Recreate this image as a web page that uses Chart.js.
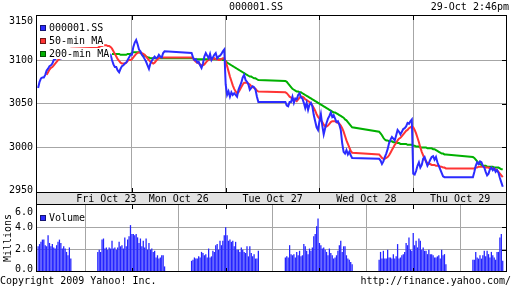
<!DOCTYPE html>
<html>
<head>
<meta charset="utf-8">
<script src="https://cdn.jsdelivr.net/npm/chart.js@4.4.1/dist/chart.umd.min.js"></script>
<style>
  html, body { margin: 0; padding: 0; background: #fff; }
  #wrap { position: relative; width: 512px; height: 288px; }
  canvas { position: absolute; left: 0; top: 0; }
</style>
</head>
<body>
<div id="wrap">
  <canvas id="price" width="512" height="288"></canvas>
  <canvas id="vol" width="512" height="288"></canvas>
</div>
<script>
// x axis unit = one 5-minute slot; each day 9:30-15:00 = 66 slots
const sessionStart = [0, 42, 66, 108, 132, 174, 198, 240, 264, 306];
const sessionLen = [24, 24, 24, 24, 24, 24, 24, 24, 24, 22];
const dayBreaks = [66, 132, 198, 264];
const dayLabels = ['Fri Oct 23', 'Mon Oct 26', 'Tue Oct 27', 'Wed Oct 28', 'Thu Oct 29'];
const dayLabelSlot = [48, 99, 165, 231, 297];
const priceTicks = [2950, 3000, 3050, 3100, 3150];
const volumeTicks = [0, 2, 4, 6];

// 000001.SS, one value per slot, session by session
const close = [
  3068, 3075, 3079, 3080, 3080, 3083, 3088, 3090, 3093, 3094, 3096, 3100, 3101, 3102, 3103, 3104, 3102, 3105, 3104, 3106, 3103, 3104, 3105, 3104,
  3106, 3108, 3107, 3105, 3106, 3108, 3107, 3106, 3107, 3106, 3100, 3095, 3092, 3092, 3088, 3086, 3090, 3093, 3094, 3096, 3097, 3100, 3103, 3106,
  3106, 3115, 3120, 3123, 3118, 3112, 3110, 3106, 3104, 3101, 3098, 3094, 3090, 3096, 3099, 3102, 3104, 3102, 3103, 3106, 3104, 3103, 3108, 3110,
  3108, 3103, 3100, 3101, 3097, 3098, 3094, 3091, 3096, 3104, 3108, 3105, 3102, 3107, 3100, 3103, 3106, 3108, 3102, 3104, 3105, 3107, 3110, 3112,
  3072, 3060, 3064, 3058, 3063, 3060, 3062, 3060, 3058, 3066, 3070, 3074, 3080, 3083, 3077, 3075, 3072, 3066, 3068, 3070, 3069, 3066, 3058, 3052,
  3052, 3048, 3047, 3052, 3052, 3058, 3051, 3056, 3055, 3060, 3062, 3057, 3056, 3051, 3045, 3051, 3043, 3049, 3051, 3047, 3037, 3030, 3023, 3020,
  3030, 3038, 3025, 3015, 3022, 3028, 3033, 3036, 3040, 3035, 3037, 3033, 3029, 3030, 3026, 3020, 3005, 2995, 2993, 2997, 2992, 2995, 2991, 2988,
  2987, 2985, 2981, 2984, 2989, 2993, 2998, 3005, 3009, 3012, 3010, 3008, 3014, 3020, 3018, 3015, 3018, 3021, 3022, 3024, 3028, 3027, 3030, 3032,
  2970, 2969, 2973, 2979, 2983, 2977, 2980, 2987, 2989, 2984, 2979, 2982, 2986, 2989, 2990, 2986, 2989, 2983, 2979, 2975, 2971, 2967, 2966, 2966,
  2966, 2972, 2979, 2983, 2981, 2984, 2983, 2979, 2977, 2972, 2968, 2970, 2975, 2977, 2974, 2976, 2972, 2974, 2971, 2965, 2960, 2955
];

const ma50 = [
  null, null, null, null, null, null, 3083, 3086, 3089, 3091, 3092, 3094, 3096, 3098, 3100, 3101, 3103, 3105, 3107, 3108, 3110, 3111, 3112, 3113,
  3114, 3115, 3116, 3116, 3117, 3117, 3117, 3116, 3116, 3115, 3113, 3110, 3107, 3104, 3101, 3099, 3097, 3096, 3096, 3096, 3097, 3099, 3100, 3100,
  3101, 3103, 3105, 3107, 3108, 3109, 3109, 3108, 3107, 3106, 3104, 3102, 3100, 3098, 3097, 3096, 3097, 3099, 3101, 3102, 3103, 3103, 3103, 3103,
  3103, 3102, 3100, 3098, 3097, 3096, 3095, 3094, 3094, 3095, 3097, 3099, 3100, 3101, 3101, 3101, 3102, 3101, 3101, 3100, 3100, 3101, 3102, 3102,
  3098, 3093, 3087, 3081, 3076, 3071, 3067, 3064, 3062, 3063, 3066, 3069, 3072, 3074, 3074, 3074, 3073, 3072, 3070, 3069, 3068, 3067, 3065, 3064,
  3063, 3062, 3060, 3058, 3057, 3056, 3055, 3054, 3053, 3055, 3057, 3058, 3058, 3057, 3055, 3054, 3053, 3052, 3050, 3048, 3045, 3042, 3038, 3035,
  3033, 3031, 3029, 3026, 3024, 3024, 3025, 3027, 3029, 3030, 3030, 3030, 3029, 3028, 3027, 3025, 3022, 3018, 3013, 3008, 3004, 3000, 2996, 2994,
  2992, 2990, 2988, 2987, 2987, 2988, 2989, 2991, 2994, 2997, 3000, 3003, 3005, 3008, 3010, 3011, 3013, 3015, 3017, 3019, 3020, 3022, 3023, 3024,
  3023, 3020, 3016, 3011, 3006, 3000, 2995, 2991, 2987, 2984, 2982, 2981, 2981, 2980, 2980, 2980, 2979, 2979, 2979, 2978, 2978, 2977, 2977, 2976,
  2976, 2976, 2977, 2977, 2978, 2978, 2978, 2978, 2978, 2977, 2977, 2977, 2976, 2976, 2976, 2975, 2975, 2974, 2972, 2970, 2968, 2966
];

const ma200 = [
  null, null, null, null, null, null, null, null, null, null, null, null, null, null, null, null, null, null, null, null, null, null, null, null,
  null, null, null, null, null, null, null, null, null, null, 3107, 3107, 3107, 3107, 3107, 3107, 3106, 3106, 3106, 3106, 3106, 3107, 3107, 3107,
  3108, 3109, 3109, 3109, 3109, 3109, 3108, 3107, 3106, 3105, 3104, 3103, 3103, 3102, 3102, 3102, 3102, 3102, 3102, 3102, 3102, 3102, 3102, 3102,
  3102, 3102, 3101, 3101, 3101, 3101, 3101, 3101, 3101, 3101, 3101, 3101, 3101, 3101, 3101, 3101, 3101, 3101, 3101, 3101, 3101, 3101, 3100, 3100,
  3099, 3097, 3096, 3095, 3094, 3093, 3092, 3091, 3090, 3089, 3088, 3087, 3086, 3085, 3084, 3083, 3082, 3081, 3081, 3080, 3079, 3079, 3078, 3077,
  3076, 3075, 3073, 3071, 3069, 3067, 3066, 3065, 3064, 3064, 3063, 3063, 3062, 3061, 3060, 3059, 3058, 3057, 3056, 3055, 3054, 3053, 3052, 3051,
  3050, 3049, 3048, 3047, 3046, 3045, 3044, 3043, 3042, 3041, 3040, 3040, 3039, 3038, 3037, 3036, 3035, 3034, 3032, 3031, 3029, 3027, 3025, 3023,
  3018, 3016, 3014, 3011, 3009, 3008, 3008, 3007, 3007, 3007, 3006, 3006, 3005, 3005, 3005, 3004, 3004, 3004, 3004, 3004, 3003, 3003, 3003, 3003,
  3002, 3002, 3001, 3001, 3001, 3000, 3000, 3000, 3000, 3000, 2999, 2999, 2999, 2999, 2998, 2998, 2997, 2996, 2995, 2994, 2993, 2993, 2992, 2992,
  2989, 2988, 2986, 2984, 2982, 2981, 2980, 2979, 2979, 2979, 2978, 2978, 2978, 2978, 2978, 2977, 2977, 2977, 2977, 2976, 2975, 2975
];

// volume in millions
const volume = [
  2.3, 2.5, 2.7, 2.9, 2.9, 2.4, 2.3, 3.3, 2.6, 2.3, 2.5, 2.2, 2.1, 2.4, 2.7, 2.9, 2.6, 2.1, 2.3, 2.1, 1.8, 1.5, 2.2, 1.2,
  1.8, 2.0, 1.8, 2.9, 3.0, 2.1, 2.2, 2.0, 2.2, 2.1, 2.8, 2.1, 2.2, 2.0, 2.2, 2.7, 2.3, 2.4, 2.1, 3.1, 2.3, 2.9, 3.2, 4.2,
  3.4, 3.4, 3.3, 3.4, 3.1, 2.6, 3.0, 2.3, 2.8, 2.2, 3.0, 2.0, 2.6, 2.0, 2.1, 1.8, 1.9, 1.3, 1.5, 1.2, 1.3, 1.5, 1.5, 0.5,
  1.0, 1.1, 1.3, 1.2, 1.2, 1.4, 1.3, 1.8, 1.7, 1.5, 1.6, 1.3, 2.1, 1.3, 1.4, 1.9, 1.8, 2.4, 2.5, 2.0, 2.8, 2.4, 2.8, 3.3,
  4.0, 3.3, 2.8, 2.9, 2.7, 2.8, 2.3, 2.7, 2.0, 2.0, 1.8, 2.2, 2.0, 1.8, 1.7, 2.3, 1.4, 2.3, 1.7, 1.4, 1.6, 1.2, 1.2, 1.9,
  1.3, 1.4, 1.3, 2.4, 1.6, 1.5, 1.6, 1.3, 1.8, 1.5, 1.9, 1.4, 1.5, 2.5, 2.3, 1.9, 1.6, 2.1, 1.9, 2.2, 3.2, 3.4, 4.1, 4.8,
  2.6, 2.4, 2.1, 2.2, 2.0, 1.8, 1.5, 2.1, 1.7, 1.5, 1.2, 1.3, 1.5, 1.9, 2.4, 2.8, 1.8, 2.3, 2.3, 1.5, 1.2, 1.1, 0.9, 0.7,
  1.1, 1.8, 1.2, 1.9, 1.2, 1.2, 2.0, 1.3, 1.3, 1.2, 1.6, 1.2, 1.4, 2.5, 1.2, 1.3, 1.5, 1.6, 1.8, 2.6, 2.4, 3.1, 2.0, 1.9,
  3.5, 2.4, 2.8, 2.2, 3.0, 2.8, 2.0, 2.2, 1.9, 1.9, 1.6, 2.0, 1.6, 1.6, 1.5, 1.3, 1.3, 1.4, 1.5, 1.2, 2.0, 1.5, 1.6, 0.7,
  1.1, 1.1, 1.8, 1.3, 1.2, 1.5, 1.2, 1.5, 1.9, 1.4, 1.9, 1.6, 1.3, 1.8, 1.5, 1.3, 1.1, 1.8, 1.8, 3.1, 3.4, 1.0
];

const BLUE = '#2b2bff';
const RED = '#ff3434';
const GREEN = '#00b000';
const GRID = '#a6a6a6';
const FONT = '10px "DejaVu Sans Mono", "Liberation Mono", monospace';

function sessionPoints(values) {
  const pts = [];
  let i = 0;
  sessionStart.forEach((start, k) => {
    for (let j = 0; j < sessionLen[k]; j++) pts.push({ x: start + j, y: values[i++] });
  });
  return pts;
}

function timeAxis() {
  return {
    type: 'linear', min: -1.5, max: 330, offset: false,
    ticks: { display: false },
    grid: { color: GRID, drawTicks: false },
    border: { display: false },
    afterBuildTicks: s => { s.ticks = dayBreaks.map(v => ({ value: v })); },
    afterFit: s => { s.height = 0; }
  };
}

function hline(ctx, x1, x2, y) {
  ctx.beginPath(); ctx.moveTo(x1, y + 0.5); ctx.lineTo(x2, y + 0.5); ctx.stroke();
}
function vline(ctx, x, y1, y2) {
  ctx.beginPath(); ctx.moveTo(x + 0.5, y1); ctx.lineTo(x + 0.5, y2); ctx.stroke();
}
function swatch(ctx, x, y, color) {
  ctx.fillStyle = color;
  ctx.fillRect(x, y, 6, 6);
  ctx.strokeStyle = 'rgba(0,0,0,0.55)';
  ctx.strokeRect(x + 0.5, y + 0.5, 5, 5);
}

// price panel decorations: legend, frame, date band, labels
const priceDecor = {
  id: 'priceDecor',
  afterDraw(chart) {
    const { ctx, chartArea: a, scales: { x, y } } = chart;
    ctx.save();
    ctx.font = FONT;
    ctx.textBaseline = 'middle';

    // legend rows (white behind the text)
    const rows = [['000001.SS', BLUE, 28], ['50-min MA', RED, 41], ['200-min MA', GREEN, 54]];
    rows.forEach(([txt, col, cy]) => {
      ctx.fillStyle = '#fff';
      ctx.fillRect(a.left + 1, cy - 6, 12 + ctx.measureText(txt).width + 1, 11);
    });
    rows.forEach(([txt, col, cy]) => {
      swatch(ctx, 40, cy - 3, col);
      ctx.fillStyle = '#000';
      ctx.textAlign = 'left';
      ctx.fillText(txt, 49, cy + 0.5);
    });

    // date band
    const bandTop = Math.round(a.bottom);
    ctx.fillStyle = '#e2e2e2';
    ctx.fillRect(a.left, bandTop, a.right - a.left, 12);

    ctx.strokeStyle = '#000';
    ctx.lineWidth = 1;
    hline(ctx, a.left, a.right, a.top);
    hline(ctx, a.left, a.right, bandTop);
    hline(ctx, a.left, a.right, bandTop + 12);
    vline(ctx, a.left, a.top, bandTop + 13);
    vline(ctx, a.right - 1, a.top, bandTop + 13);

    dayBreaks.forEach(v => {
      const px = Math.round(x.getPixelForValue(v));
      vline(ctx, px, a.top, a.top + 5);
      vline(ctx, px, bandTop - 4, bandTop);
    });
    priceTicks.forEach(v => {
      if (v <= y.min + 2 || v >= y.max - 2) return;
      const py = Math.round(y.getPixelForValue(v));
      hline(ctx, a.right - 5, a.right, py);
    });

    ctx.fillStyle = '#000';
    ctx.textAlign = 'right';
    priceTicks.forEach(v => {
      const py = Math.min(Math.max(y.getPixelForValue(v), a.top + 6), a.bottom - 2);
      ctx.fillText(String(v), 33, py);
    });

    ctx.textAlign = 'center';
    dayLabels.forEach((lab, i) => {
      ctx.fillText(lab, x.getPixelForValue(dayLabelSlot[i]), bandTop + 7);
    });

    ctx.fillText('000001.SS', 256, 7.5);
    ctx.textAlign = 'right';
    ctx.fillText('29-Oct 2:46pm', 509, 7.5);
    ctx.restore();
  }
};

// volume panel decorations
const volDecor = {
  id: 'volDecor',
  afterDraw(chart) {
    const { ctx, chartArea: a, scales: { x, y } } = chart;
    ctx.save();
    ctx.font = FONT;
    ctx.textBaseline = 'middle';
    ctx.strokeStyle = '#000';
    ctx.lineWidth = 1;
    const bottom = Math.round(a.bottom) - 1;
    hline(ctx, a.left, a.right, bottom);
    vline(ctx, a.left, a.top, bottom + 1);
    vline(ctx, a.right - 1, a.top, bottom + 1);
    dayBreaks.forEach(v => {
      const px = Math.round(x.getPixelForValue(v));
      vline(ctx, px, a.top, a.top + 4);
      vline(ctx, px, bottom - 3, bottom);
    });
    volumeTicks.forEach(v => {
      if (v <= y.min || v >= y.max) return;
      const py = Math.round(y.getPixelForValue(v));
      hline(ctx, a.right - 5, a.right, py);
    });

    ctx.fillStyle = '#000';
    ctx.textAlign = 'right';
    volumeTicks.forEach(v => {
      const py = Math.min(Math.max(y.getPixelForValue(v), a.top + 7), a.bottom - 3);
      ctx.fillText(v.toFixed(1), 33, py);
    });

    swatch(ctx, 40, 215, BLUE);
    ctx.fillStyle = '#000';
    ctx.textAlign = 'left';
    ctx.fillText('Volume', 49, 218.5);

    ctx.fillText('Copyright 2009 Yahoo! Inc.', 0, 281);
    ctx.textAlign = 'right';
    ctx.fillText('http://finance.yahoo.com/', 511, 281);

    ctx.translate(8, 238);
    ctx.rotate(-Math.PI / 2);
    ctx.textAlign = 'center';
    ctx.fillText('Millions', 0, 0);
    ctx.restore();
  }
};

new Chart(document.getElementById('price'), {
  type: 'line',
  data: {
    datasets: [
      { label: '000001.SS', data: sessionPoints(close), borderColor: BLUE, borderWidth: 2 },
      { label: '50-min MA', data: sessionPoints(ma50), borderColor: RED, borderWidth: 2 },
      { label: '200-min MA', data: sessionPoints(ma200), borderColor: GREEN, borderWidth: 2 }
    ]
  },
  options: {
    responsive: false,
    animation: false,
    events: [],
    layout: { padding: { left: 36, right: 5, top: 15, bottom: 96 } },
    elements: { point: { radius: 0 }, line: { tension: 0, fill: false } },
    plugins: { legend: { display: false }, tooltip: { enabled: false } },
    scales: {
      x: timeAxis(),
      y: {
        type: 'linear', min: 2949, max: 3151.5,
        ticks: { display: false },
        grid: { color: GRID, drawTicks: false },
        border: { display: false },
        afterBuildTicks: s => {
          s.ticks = priceTicks.filter(v => v > s.min + 2 && v < s.max - 2).map(v => ({ value: v }));
        },
        afterFit: s => { s.width = 0; }
      }
    }
  },
  plugins: [priceDecor]
});

new Chart(document.getElementById('vol'), {
  type: 'bar',
  data: {
    datasets: [
      { label: 'Volume', data: sessionPoints(volume), backgroundColor: '#2424ff',
        categoryPercentage: 1, barPercentage: 0.9 }
    ]
  },
  options: {
    responsive: false,
    animation: false,
    events: [],
    layout: { padding: { left: 36, right: 5, top: 205, bottom: 16 } },
    plugins: { legend: { display: false }, tooltip: { enabled: false } },
    scales: {
      x: timeAxis(),
      y: {
        type: 'linear', min: 0, max: 6,
        ticks: { display: false },
        grid: { color: GRID, drawTicks: false },
        border: { display: false },
        afterBuildTicks: s => {
          s.ticks = volumeTicks.filter(v => v > s.min && v < s.max).map(v => ({ value: v }));
        },
        afterFit: s => { s.width = 0; }
      }
    }
  },
  plugins: [volDecor]
});
</script>
</body>
</html>
